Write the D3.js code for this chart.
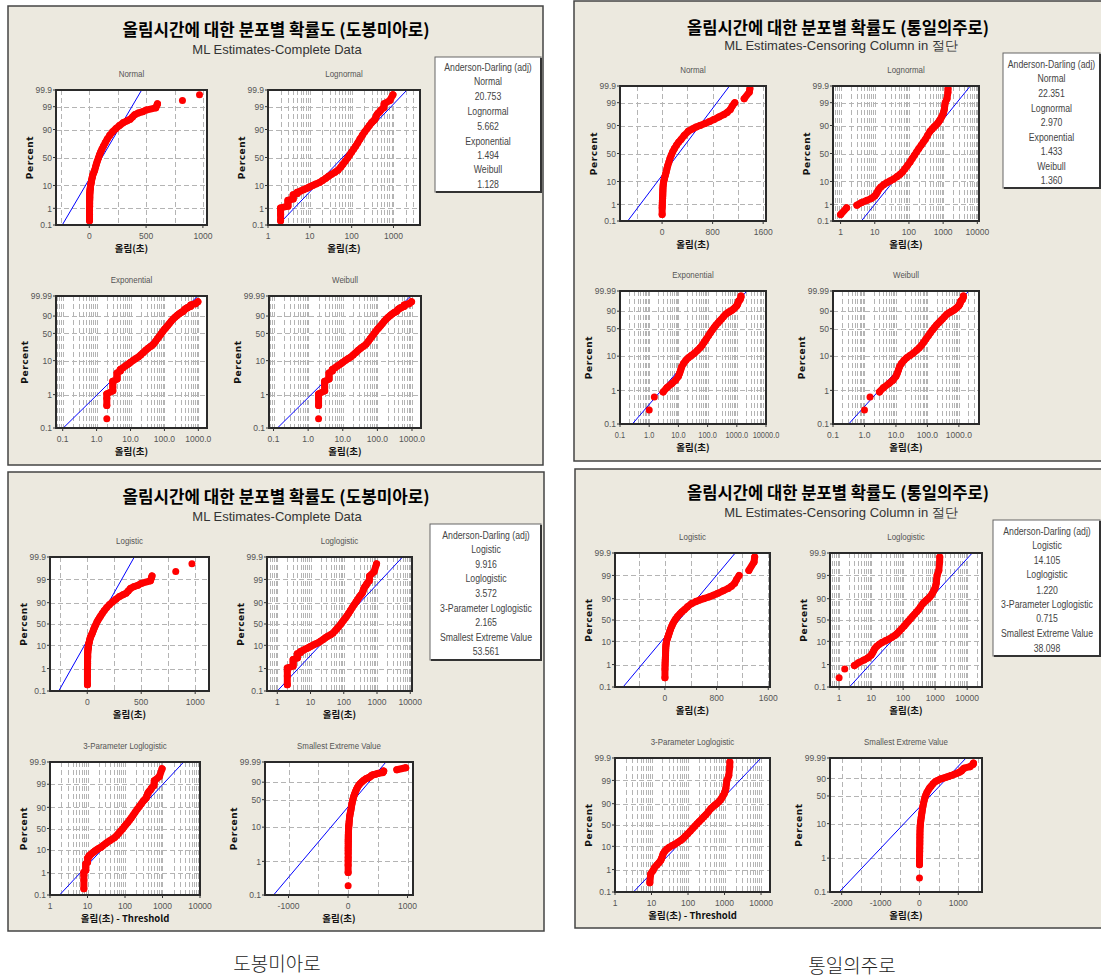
<!DOCTYPE html>
<html><head><meta charset="utf-8">
<script src="https://cdn.jsdelivr.net/npm/d3@7"></script>
<style>body{margin:0;background:#fff;} svg{display:block}</style>
</head><body>
<svg id="c" width="1101" height="978"></svg>
<script>
// ---------------- DATA ----------------
const distNames = ["Normal","Lognormal","Exponential","Weibull","Logistic","Loglogistic","3-Parameter Loglogistic","Smallest Extreme Value"];

// 도봉미아로 : time (s) and plotted percent
const dobongTime = [2,2,2,2,3,3,3,3,4,4,4,4,5,5,6,7,8,9,10,12,14,17,20,24,28,33,40,47,55,62,70,80,90,100,112,125,140,158,180,205,235,265,300,330,360,380,400,430,470,500,585,595,600,820,970];
const dobongPct  = [0.19,0.47,0.78,1.05,1.3,1.7,2.1,2.5,2.9,3.4,3.9,4.4,5.0,5.6,6.2,7.0,7.6,8.3,9.0,10.2,11.3,12.6,14.5,17,19.5,22,25,28,33,38,43,49,55,60,65,70,75,80,84.5,88,90.8,92.8,94.5,95.3,96.0,96.8,97.5,97.9,98.2,98.5,98.85,99.15,99.3,99.55,99.8];
const dobongThreshold = -6;

// 통일의주로
const tongilTime = [1,1.5,3,4,6,8,10,11,12,13,15,18,22,28,35,45,55,65,76,90,108,125,145,168,195,230,264,300,350,414,480,540,600,680,750,820,900,980,1030,1080,1110,1150,1300,1380,1390];
const tongilPct  = [0.26,0.64,0.9,1.2,1.6,2.0,2.6,3.2,4,5,6.2,7.6,9,10.5,12,14.5,17,20,24,29,35,41,47,53,59,65,70,74,79.5,84.5,87,88.8,90,91.5,92.8,94,95.3,96.3,97,97.8,98.5,99,99.4,99.75,99.85];
const tongilThreshold = -8;

// fitted lines [x1, pct1, x2, pct2] in order of distNames (3-par: x - threshold)
const dobongFits = [[-238,0.1,461,99.9],[1.75,0.1,2100,99.9],[0.104,0.1,960,99.99],[0.13,0.1,912,99.99],[-264,0.1,436,99.9],[1.0,0.1,5900,99.9],[1.8,0.1,3670,99.9],[-1251,0.1,638,99.99]];
const tongilFits = [[-544,0.1,1067,99.9],[4.05,0.1,6220,99.9],[0.265,0.1,2210,99.99],[0.315,0.1,2070,99.99],[-647,0.1,1089,99.9],[2.1,0.1,14400,99.9],[3.2,0.1,10000,99.9],[-2061,0.1,1200,99.99]];

// Anderson-Darling (adj)
const adDobongTop = ["20.753","5.662","1.494","1.128"];
const adTongilTop = ["22.351","2.970","1.433","1.360"];
const adDobongBottom = ["9.916","3.572","2.165","53.561"];
const adTongilBottom = ["14.105","1.220","0.715","38.098"];

const pctTicksNormal = [0.1,1,10,50,90,99,99.9];
const pctTicksWeibull = [1,10,50,90,99.99];

const titleDobong = "올림시간에 대한 분포별 확률도 (도봉미아로)";
const titleTongil = "올림시간에 대한 분포별 확률도 (통일의주로)";
const subComplete = "ML Estimates-Complete Data";
const subCensor = "ML Estimates-Censoring Column in 절단";
const xTitle = "올림(초)";
const xTitle3P = "올림(초) - Threshold";
const captions = ["도봉미아로","통일의주로"];

// ---------------- HELPERS ----------------
function qnorm(p){
  const a=[-3.969683028665376e+01,2.209460984245205e+02,-2.759285104469687e+02,1.383577518672690e+02,-3.066479806614716e+01,2.506628277459239e+00];
  const b=[-5.447609879822406e+01,1.615858368580409e+02,-1.556989798598866e+02,6.680131188771972e+01,-1.328068155288572e+01];
  const c=[-7.784894002430293e-03,-3.223964580411365e-01,-2.400758277161838e+00,-2.549732539343734e+00,4.374664141464968e+00,2.938163982698783e+00];
  const d=[7.784695709041462e-03,3.224671290700398e-01,2.445134137142996e+00,3.754408661907416e+00];
  const pl=0.02425, ph=1-pl; let q,r;
  if(p<pl){q=Math.sqrt(-2*Math.log(p));return (((((c[0]*q+c[1])*q+c[2])*q+c[3])*q+c[4])*q+c[5])/((((d[0]*q+d[1])*q+d[2])*q+d[3])*q+1);}
  if(p<=ph){q=p-0.5;r=q*q;return (((((a[0]*r+a[1])*r+a[2])*r+a[3])*r+a[4])*r+a[5])*q/(((((b[0]*r+b[1])*r+b[2])*r+b[3])*r+b[4])*r+1);}
  q=Math.sqrt(-2*Math.log(1-p));return -(((((c[0]*q+c[1])*q+c[2])*q+c[3])*q+c[4])*q+c[5])/((((d[0]*q+d[1])*q+d[2])*q+d[3])*q+1);
}
const yT = {
  normal: p => qnorm(p/100),
  logistic: p => Math.log((p/100)/(1-p/100)),
  weibull: p => Math.log(-Math.log(1-p/100))
};
const KR = '"Noto Sans CJK KR", sans-serif';
const SANS = '"Liberation Sans", Arial, sans-serif';

const svg = d3.select('#c');
let clipId = 0;

function txt(g, x, y, s, o={}) {
  let host = g, tx = x, ty = y;
  if (o.sx) {
    host = g.append('g').attr('transform', `translate(${x},${y}) scale(${o.sx},1)`);
    tx = 0; ty = 0;
  }
  const t = host.append('text').attr('x',tx).attr('y',ty).text(s)
    .attr('text-anchor', o.anchor||'middle').attr('dominant-baseline','central')
    .style('font-family', o.family||SANS)
    .style('font-size', (o.size||10)+'px').attr('fill', o.fill||'#444');
  if(o.weight) t.style('font-weight', o.weight);
  if(o.len) t.attr('textLength', o.len).attr('lengthAdjust','spacingAndGlyphs');
  if(o.ls) t.style('letter-spacing', o.ls+'px');
  if(o.rotate) t.attr('transform', `rotate(${o.rotate},${x},${y})`);
  return t;
}

function logGrid(dom){
  const out=[];
  for(let e=Math.floor(Math.log10(dom[0]))-1;e<=Math.ceil(Math.log10(dom[1]));e++)
    for(let k=1;k<=9;k++){const v=k*Math.pow(10,e); if(v>dom[0]*1.0001 && v<dom[1]*0.9999) out.push(v);}
  return out;
}

function drawPlot(g, P, D) {
  const [x0,y0,x1,y1] = P.frame;
  const isLog = P.xType === 'log';
  const x = (isLog ? d3.scaleLog() : d3.scaleLinear()).domain(P.xDomain).range([x0,x1]);
  const yType = P.yType;
  const tf = yT[yType];
  const yDom = yType==='weibull' ? [0.1,99.99] : [0.1,99.9];
  const yTicks = yType==='weibull' ? pctTicksWeibull : pctTicksNormal;
  const ys = d3.scaleLinear().domain([tf(yDom[0]), tf(yDom[1])]).range([y1,y0]);
  const Y = p => ys(tf(p));

  g.append('rect').attr('x',x0).attr('y',y0).attr('width',x1-x0).attr('height',y1-y0).attr('fill','#fff');
  const id = 'clip'+(clipId++);
  g.append('clipPath').attr('id',id).append('rect').attr('x',x0).attr('y',y0).attr('width',x1-x0).attr('height',y1-y0);

  // grid
  const grid = g.append('g').attr('stroke','#b4b4b4').attr('stroke-width',1).attr('stroke-dasharray','5,3');
  const gx = isLog ? logGrid(P.xDomain) : P.xGrid;
  gx.forEach(v => { const px = Math.round(x(v))+0.5; if(px>x0+1 && px<x1-1) grid.append('line').attr('x1',px).attr('x2',px).attr('y1',y0).attr('y2',y1); });
  yTicks.forEach(p => { const py = Math.round(Y(p))+0.5; if(py>y0+1 && py<y1-1) grid.append('line').attr('x1',x0).attr('x2',x1).attr('y1',py).attr('y2',py); });

  // fit line
  const f = D.fits[P.dist];
  g.append('line').attr('clip-path',`url(#${id})`)
    .attr('x1', x(f[0])).attr('y1', Y(f[1])).attr('x2', x(f[2])).attr('y2', Y(f[3]))
    .attr('stroke','#0000ff').attr('stroke-width',1);

  // points
  const thr = P.dist === 6 ? D.thr : 0;
  const pts = D.times.map((t,i)=>[x(t - thr), Y(D.pcts[i])]);
  let path = '';
  for(let i=0;i<pts.length-1;i++){
    const a=pts[i], b=pts[i+1];
    if(Math.hypot(a[0]-b[0],a[1]-b[1]) < 10) path += `M${a[0]},${a[1]}L${b[0]},${b[1]}`;
  }
  g.append('path').attr('d',path).attr('stroke','#ff0000').attr('stroke-width',7).attr('stroke-linecap','round').attr('fill','none');
  g.selectAll(null).data(pts).enter().append('circle')
    .attr('cx',d=>d[0]).attr('cy',d=>d[1]).attr('r',3.5).attr('fill','#ff0000');

  // frame
  g.append('rect').attr('x',x0).attr('y',y0).attr('width',x1-x0).attr('height',y1-y0)
    .attr('fill','none').attr('stroke','#2a2a2a').attr('stroke-width',2);

  // ticks & labels
  const tk = g.append('g').attr('stroke','#333').attr('stroke-width',1);
  yTicks.concat(yDom).filter((v,i,a)=>a.indexOf(v)===i).forEach(p=>{
    const py = Y(p);
    tk.append('line').attr('x1',x0-3).attr('x2',x0).attr('y1',py).attr('y2',py);
    txt(g, x0-4, py, String(p), {anchor:'end', size:9.8, sx:0.87, fill:'#555'});
  });
  P.xTicks.forEach(v=>{
    const px = x(v);
    tk.append('line').attr('x1',px).attr('x2',px).attr('y1',y1).attr('y2',y1+3);
    const s = P.fmt ? v.toFixed(1) : String(v);
    txt(g, px, y1+11, s, {size:P.tickSize||9.8, sx:0.87, fill:'#555'});
  });

  // titles
  const cx = (x0+x1)/2;
  txt(g, cx, y0-16, distNames[P.dist], {size:9, sx:0.88, fill:'#555'});
  txt(g, cx, y1+23, P.dist===6 ? xTitle3P : xTitle, {size:9.5, weight:700, family:KR, fill:'#111'});
  const off = yType==='weibull' ? 31 : 26;
  txt(g, x0-off, (y0+y1)/2, 'Percent', {size:9, weight:700, family:'"DejaVu Sans", sans-serif', fill:'#111', rotate:-90, ls:0.6});
}

function drawPanel(L, D){
  const g = svg.append('g');
  const [rx0,ry0,rx1,ry1] = L.rect;
  g.append('rect').attr('x',rx0).attr('y',ry0).attr('width',rx1-rx0).attr('height',ry1-ry0)
    .attr('fill','#ece9df').attr('stroke','#444').attr('stroke-width',1.5);
  txt(g, L.title[0], L.title[1], L.name, {size:17, weight:700, fill:'#000', family:KR, len:L.titleLen});
  txt(g, L.sub[0], L.sub[1], L.subText, {size:13, fill:'#333', family:SANS});
  // AD box
  const [bx0,by0,bx1,by1] = L.box;
  g.append('rect').attr('x',bx0).attr('y',by0).attr('width',bx1-bx0).attr('height',by1-by0)
    .attr('fill','#fff').attr('stroke','#666').attr('stroke-width',1);
  g.append('path').attr('d',`M${bx1},${by0+1}V${by1}H${bx0+1}`).attr('stroke','#333').attr('stroke-width',2).attr('fill','none');
  const lines = ['Anderson-Darling (adj)'];
  L.adLabels.forEach((lab,i)=>{ lines.push(lab); lines.push(L.adValues[i]); });
  lines.forEach((s,i)=> txt(g, L.boxCx, L.boxLines[i], s, {size:10, sx:0.87, fill:'#444'}));
  L.plots.forEach(P => drawPlot(g, P, D));
}

const dobong = {times:dobongTime, pcts:dobongPct, fits:dobongFits, thr:dobongThreshold};
const tongil = {times:tongilTime, pcts:tongilPct, fits:tongilFits, thr:tongilThreshold};
const dec4 = [1,10,100,1000,10000];

drawPanel({
  rect:[8,6,543,465], title:[276,28], titleLen:307, name:titleDobong, sub:[277,49], subText:subComplete,
  box:[435,57,541,192], boxCx:488, boxLines:[68,82,97,112,127,142,156,170,185],
  adLabels:distNames.slice(0,4), adValues:adDobongTop,
  plots:[
    {dist:0, frame:[56,90,207,225], yType:'normal', xType:'linear', xDomain:[-293,1036], xTicks:[0,500,1000], xGrid:[-250,0,250,500,750,1000]},
    {dist:1, frame:[268,90,420,225], yType:'normal', xType:'log', xDomain:[1,4300], xTicks:[1,10,100,1000]},
    {dist:2, frame:[56,296,207,428], yType:'weibull', xType:'log', xDomain:[0.0635,1800], xTicks:[0.1,1,10,100,1000], fmt:true},
    {dist:3, frame:[269,296,421,428], yType:'weibull', xType:'log', xDomain:[0.074,1820], xTicks:[0.1,1,10,100,1000], fmt:true}
  ]}, dobong);

drawPanel({
  rect:[574,1,1106,461], title:[838,26], titleLen:302, name:titleTongil, sub:[841,45], subText:subCensor,
  box:[1003,53,1100,188], boxCx:1051.5, boxLines:[64.3,78.3,93.3,108.3,122.7,137.3,151.7,166.3,180.7],
  adLabels:distNames.slice(0,4), adValues:adTongilTop,
  plots:[
    {dist:0, frame:[620,86,766,221], yType:'normal', xType:'linear', xDomain:[-666,1645], xTicks:[0,800,1600], xGrid:[-400,0,400,800,1200,1600]},
    {dist:1, frame:[833,86,979,221], yType:'normal', xType:'log', xDomain:[0.6,11200], xTicks:dec4},
    {dist:2, frame:[620,291,766,424], yType:'weibull', xType:'log', xDomain:[0.1,10000], xTicks:[0.1,1,10,100,1000,10000], fmt:true, tickSize:8.5},
    {dist:3, frame:[833,291,979,424], yType:'weibull', xType:'log', xDomain:[0.1,4360], xTicks:[0.1,1,10,100,1000], fmt:true}
  ]}, tongil);

drawPanel({
  rect:[8,472,544,931], title:[276,495], titleLen:307, name:titleDobong, sub:[277,516], subText:subComplete,
  box:[430,524,541,660], boxCx:486, boxLines:[535.7,550,564.3,579,594,608.3,622.7,637.3,651.7],
  adLabels:distNames.slice(4), adValues:adDobongBottom,
  plots:[
    {dist:4, frame:[50,557,209,691], yType:'logistic', xType:'linear', xDomain:[-345,1128], xTicks:[0,500,1000], xGrid:[-250,0,250,500,750,1000]},
    {dist:5, frame:[267,557,412,691], yType:'logistic', xType:'log', xDomain:[0.49,11300], xTicks:dec4},
    {dist:6, frame:[50,762,200,895], yType:'logistic', xType:'log', xDomain:[1,10000], xTicks:dec4},
    {dist:7, frame:[265,762,413,895], yType:'weibull', xType:'linear', xDomain:[-1395,1092], xTicks:[-1000,0,1000], xGrid:[-1000,-500,0,500,1000]}
  ]}, dobong);

drawPanel({
  rect:[575,469,1106,928], title:[838,491.5], titleLen:302, name:titleTongil, sub:[841,512], subText:subCensor,
  box:[993,520,1100,656], boxCx:1047, boxLines:[531.7,545.7,560.7,575,590.3,604.3,619,633.7,648.3],
  adLabels:distNames.slice(4), adValues:adTongilBottom,
  plots:[
    {dist:4, frame:[615,553,770,687], yType:'logistic', xType:'linear', xDomain:[-772,1627], xTicks:[0,800,1600], xGrid:[-400,0,400,800,1200,1600]},
    {dist:5, frame:[830,553,982,687], yType:'logistic', xType:'log', xDomain:[0.52,29000], xTicks:dec4},
    {dist:6, frame:[615,758,770,892], yType:'logistic', xType:'log', xDomain:[1,17600], xTicks:dec4},
    {dist:7, frame:[830,758,982,892], yType:'weibull', xType:'linear', xDomain:[-2300,1610], xTicks:[-2000,-1000,0,1000], xGrid:[-2000,-1500,-1000,-500,0,500,1000,1500]}
  ]}, tongil);

// captions
txt(svg, 277, 962, captions[0], {size:19, family:KR, fill:'#222', weight:300});
txt(svg, 852, 964, captions[1], {size:19, family:KR, fill:'#222', weight:300});
</script>
</body></html>
